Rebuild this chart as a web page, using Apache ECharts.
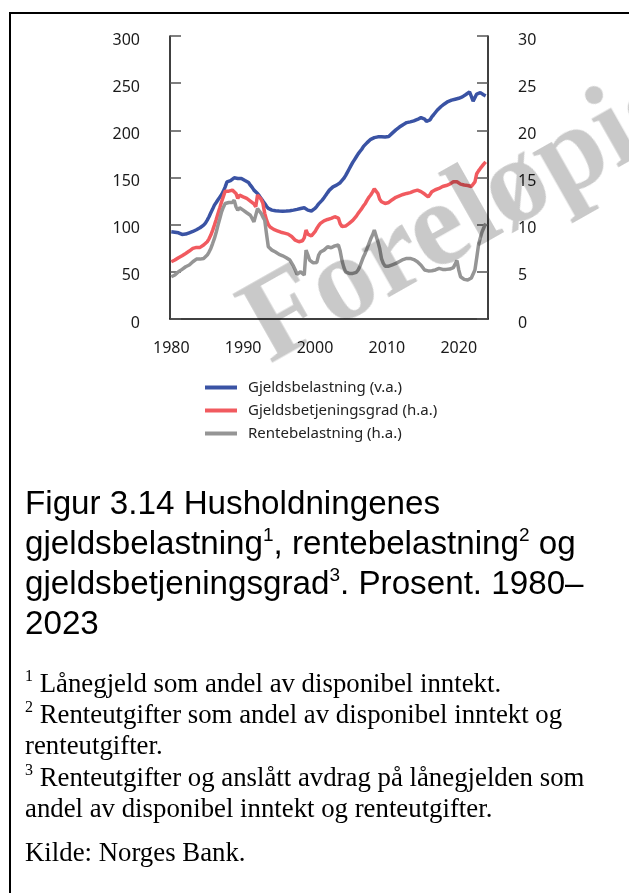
<!DOCTYPE html>
<html>
<head>
<meta charset="utf-8">
<script src="https://cdn.jsdelivr.net/npm/echarts@6/dist/echarts.min.js"></script>
<style>
  html, body { margin: 0; padding: 0; background: #fff; }
  body { width: 629px; height: 893px; position: relative; overflow: hidden; }
  #frame { position: absolute; left: 9px; top: 12px; width: 700px; height: 900px;
           border-left: 2px solid #000; border-top: 2px solid #000; }
  #chart { position: absolute; left: 0; top: 0; width: 629px; height: 893px; }
  #stamp { position: absolute; left: 268px; top: 265px; font-family: "Liberation Serif", serif;
           font-weight: bold; font-size: 120px; line-height: 120px; color: rgba(0,0,0,0.21);
           white-space: nowrap; transform-origin: 0 96px; transform: rotate(-29.5deg);
           pointer-events: none; }
  #title { position: absolute; left: 25px; top: 483px; font-family: "Liberation Sans", Arial, sans-serif;
           font-size: 33.2px; line-height: 40px; color: #000; white-space: nowrap; }
  #title sup { font-size: 19px; line-height: 0; vertical-align: 13px; }
  .note { position: absolute; left: 25px; font-family: "Liberation Serif", "Times New Roman", serif;
          font-size: 26.8px; line-height: 31px; color: #000; white-space: nowrap; }
  .note sup { font-size: 16px; line-height: 0; vertical-align: 11px; }
</style>
</head>
<body>
<div id="frame"></div>
<div id="chart"></div>
<div id="stamp">Foreløpig</div>
<div id="title">Figur 3.14 Husholdningenes<br>gjeldsbelastning<sup>1</sup>, rentebelastning<sup>2</sup> og<br>gjeldsbetjeningsgrad<sup>3</sup>. Prosent. 1980–<br>2023</div>
<div class="note" style="top:668px"><sup>1</sup> Lånegjeld som andel av disponibel inntekt.</div>
<div class="note" style="top:699px"><sup>2</sup> Renteutgifter som andel av disponibel inntekt og<br>renteutgifter.</div>
<div class="note" style="top:762px"><sup>3</sup> Renteutgifter og anslått avdrag på lånegjelden som<br>andel av disponibel inntekt og renteutgifter.</div>
<div class="note" style="top:837px">Kilde: Norges Bank.</div>

<script>
// kvartalsdata 1980K1–2023K4
const startYear = 1980

// Gjeldsbelastning (v.a.), prosent
const gjeldsbelastning = [
  92.5, 92.3, 92.0, 91.8,   91.4, 91.0, 89.7, 89.3,   90.0, 90.8, 91.4, 92.0,
  92.8, 93.5, 94.6, 95.7,   96.7, 98.1, 99.5, 101.7,  104.8, 108.4, 112.6, 116.5,
  120.7, 123.5, 126.4, 129.2,  132.0, 135.5, 140.1, 145.4,  146.1, 146.8, 148.3, 149.7,
  151.1, 149.0, 149.3, 149.0,  148.3, 146.8, 146.1, 144.7,  141.9, 139.5, 136.6, 134.5,
  133.1, 130.5, 127.8, 125.0,  122.5, 119.5, 117.2, 116.0,  115.4, 115.0, 114.7, 114.5,
  114.4, 114.3, 114.3, 114.4,  114.4, 114.6, 114.8, 115.1,  115.4, 115.8, 116.2, 116.8,
  117.2, 117.6, 117.9, 116.5,  115.4, 113.7, 114.5, 116.0,  117.2, 119.5, 122.0, 124.0,
  126.0, 128.5, 131.3, 134.0,  136.6, 138.5, 140.1, 141.0,  141.9, 142.5, 144.5, 146.5,
  149.0, 152.0, 155.5, 159.0,  162.5, 166.0, 169.0, 172.0,  175.0, 177.5, 180.0, 183.0,
  185.0, 187.0, 189.0, 190.5,  191.3, 192.3, 192.8, 193.1,  193.1, 193.1, 193.1, 193.0,
  192.0, 193.5, 195.5, 197.0,  199.0, 200.5, 202.0, 203.5,  205.0, 206.0, 207.2, 208.2,
  208.5, 209.0, 209.5, 210.0,  210.7, 211.5, 212.5, 213.5,  214.3, 212.0, 209.5, 209.0,
  211.0, 214.3, 216.5, 218.5,  221.3, 223.0, 225.0, 227.0,  228.0, 229.5, 230.5, 231.0,
  232.0, 232.5, 233.0, 233.5,  234.0, 235.0, 235.5, 236.5,  238.0, 240.0, 240.7, 236.0,
  231.0, 230.2, 238.5, 239.5,  240.0, 239.0, 237.5, 236.5
]

// Gjeldsbetjeningsgrad (h.a.), prosent
const gjeldsbetjeningsgrad = [
  6.07, 6.15, 6.25, 6.35,   6.50, 6.60, 6.71, 6.83,   6.95, 7.08, 7.20, 7.35,
  7.48, 7.55, 7.59, 7.60,   7.59, 7.70, 7.84, 8.00,   8.19, 8.50, 8.90, 9.40,
  9.95, 10.55, 11.19, 11.80,  12.43, 13.00, 13.55, 13.55,  13.55, 13.60, 13.66, 13.84,
  13.31, 12.78, 13.13, 13.05,  12.95, 12.85, 12.78, 12.60,  12.50, 12.35, 12.20, 11.90,
  13.13, 13.00, 12.70, 12.25,  11.20, 10.50, 10.00, 9.75,  9.60, 9.50, 9.42, 9.35,
  9.25, 9.20, 9.15, 9.10,   9.07, 9.00, 8.90, 8.75,   8.54, 8.35, 8.19, 8.19,
  8.19, 8.30, 8.60, 9.43,   9.00, 8.90, 8.80, 9.00,   9.25, 9.60, 9.90, 10.13,
  10.31, 10.40, 10.48, 10.55,  10.60, 10.66, 10.75, 10.84,  10.84, 10.70, 10.10, 9.80,
  9.78, 9.85, 10.00, 10.13,  10.25, 10.45, 10.66, 10.90,  11.20, 11.45, 11.70, 12.00,
  12.25, 12.60, 12.90, 13.15,  13.45, 13.80, 14.00, 13.30,  12.70, 12.43, 12.30, 12.25,
  12.25, 12.35, 12.50, 12.65,  12.78, 12.90, 12.95, 13.05,  13.15, 13.20, 13.25, 13.31,
  13.35, 13.40, 13.50, 13.55,  13.60, 13.66, 13.60, 13.50,  13.48, 13.25, 13.05, 12.95,
  13.20, 13.48, 13.60, 13.70,  13.80, 13.84, 13.95, 14.05,  14.10, 14.15, 14.19, 14.30,
  14.40, 14.55, 14.72, 14.55,  14.37, 14.30, 14.25, 14.20,  14.19, 14.15, 14.10, 14.05,
  14.01, 14.54, 15.40, 15.70,  15.96, 16.20, 16.45, 16.66
]

// Rentebelastning (h.a.), prosent
const rentebelastning = [
  4.48, 4.55, 4.66, 4.85,   5.01, 5.15, 5.26, 5.40,   5.54, 5.65, 5.72, 5.90,
  6.07, 6.20, 6.35, 6.35,   6.35, 6.38, 6.42, 6.60,   6.78, 7.10, 7.48, 8.00,
  8.54, 9.20, 9.95, 10.65,  11.37, 11.85, 12.25, 12.30,  12.35, 12.35, 12.35, 12.60,
  11.90, 11.54, 11.79, 11.65,  11.54, 11.40, 11.26, 11.10,  11.00, 10.65, 10.30, 10.13,
  11.70, 11.45, 11.20, 10.80,  10.48, 9.00, 7.66, 7.45,  7.30, 7.20, 7.10, 7.00,
  6.85, 6.78, 6.70, 6.60,   6.50, 6.43, 6.25, 6.08,   5.60, 5.19, 4.75, 4.66,
  5.00, 4.80, 4.66, 7.30,   6.80, 6.25, 6.10, 5.95,   5.80, 6.00, 6.78, 7.10,
  7.20, 7.30, 7.50, 7.66,   7.60, 7.55, 7.66, 7.75,   7.84, 7.84, 7.20, 6.20,
  5.50, 5.00, 4.85, 4.83,   4.83, 4.83, 4.85, 4.95,   5.20, 5.60, 6.10, 6.60,
  7.00, 7.50, 8.00, 8.50,   8.90, 9.42, 9.30, 8.20,   7.48, 6.40, 5.90, 5.60,
  5.54, 5.60, 5.72, 5.75,   5.80, 5.90, 6.00, 6.10,   6.25, 6.30, 6.40, 6.42,
  6.42, 6.42, 6.40, 6.30,   6.20, 6.07, 5.90, 5.70,   5.54, 5.19, 5.10, 5.10,
  5.10, 5.12, 5.15, 5.20,   5.30, 5.37, 5.30, 5.26,   5.26, 5.26, 5.26, 5.30,
  5.37, 5.45, 5.60, 6.20,   5.20, 4.48, 4.30, 4.20,   4.13, 4.13, 4.20, 4.35,
  4.48, 5.20, 6.50, 7.84,   8.60, 9.25, 9.70, 10.13
]

const yearLabels = [1980, 1990, 2000, 2010, 2020]
const seriesNames = ['Gjeldsbelastning (v.a.)', 'Gjeldsbetjeningsgrad (h.a.)', 'Rentebelastning (h.a.)']
const COLORS = ['#3a53a4', '#f15a5f', '#959595']

const FONT = '"Noto Sans", "Open Sans", sans-serif'

function toPoints(values) {
  return values.map((v, i) => [startYear + i / 4, v])
}

const chart = echarts.init(document.getElementById('chart'), null, { renderer: 'canvas' })

const axisLabel = { color: '#1a1a1a', fontSize: 16, fontFamily: FONT }
// y-etikettene sitter litt under streken i originalen
const yLabel = { ...axisLabel, margin: 30, verticalAlign: 'top', lineHeight: 8 }
const tick = { show: true, inside: true, length: 11, lineStyle: { color: '#555', width: 1.5 } }
const line = { show: true, lineStyle: { color: '#000', width: 1.5 } }

chart.setOption({
  animation: false,
  grid: { left: 170, right: 141, top: 36, bottom: 574 },
  legend: {
    orient: 'vertical',
    left: 205,
    top: 380,
    padding: 0,
    itemGap: 8,
    itemWidth: 32,
    itemHeight: 4,
    icon: 'rect',
    data: seriesNames,
    textStyle: { color: '#222', fontSize: 15, fontFamily: FONT, lineHeight: 14, padding: [0, 0, 0, 6] },
  },
  xAxis: {
    type: 'value',
    min: 1979.82,
    max: 2024.07,
    axisLine: line,
    axisTick: { show: false },
    splitLine: { show: false },
    axisLabel: { ...axisLabel, margin: 21, customValues: yearLabels, formatter: (v) => String(v) },
  },
  yAxis: [
    {
      type: 'value', min: 0, max: 300, interval: 50, position: 'left',
      axisLine: line, axisTick: tick, splitLine: { show: false }, axisLabel: yLabel,
    },
    {
      type: 'value', min: 0, max: 30, interval: 5, position: 'right',
      axisLine: line, axisTick: tick, splitLine: { show: false }, axisLabel: yLabel,
    },
  ],
  series: [
    { name: seriesNames[0], type: 'line', yAxisIndex: 0, data: toPoints(gjeldsbelastning) },
    { name: seriesNames[1], type: 'line', yAxisIndex: 1, data: toPoints(gjeldsbetjeningsgrad) },
    { name: seriesNames[2], type: 'line', yAxisIndex: 1, data: toPoints(rentebelastning) },
  ].map((s, i) => ({
    ...s,
    showSymbol: false,
    color: COLORS[i],
    lineStyle: { color: COLORS[i], width: 3.5 },
  })),
})
</script>
</body>
</html>
